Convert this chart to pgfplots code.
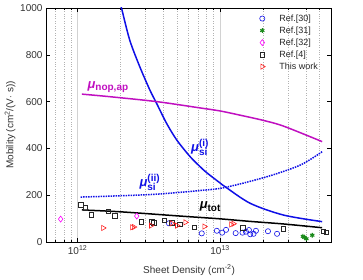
\documentclass[border=0pt]{standalone}
\usepackage{pgfplots}
\pgfplotsset{compat=1.18}
\usepackage{fontspec}
\setmainfont{Liberation Sans}
\definecolor{cblue}{RGB}{16,16,230}
\definecolor{cmag}{RGB}{192,16,192}
\definecolor{cdia}{RGB}{255,0,255}
\definecolor{cred}{RGB}{255,30,30}
\definecolor{cgreen}{RGB}{26,138,26}
\newcommand{\mubig}{{\fontsize{13}{13}\selectfont\bfseries\itshape μ}}
\newcommand{\subsz}{\fontsize{10}{10}\selectfont\bfseries}
\begin{document}
\begin{tikzpicture}
\path (-46pt,-37pt) rectangle (317pt,242pt);
\begin{axis}[
  scale only axis, width=285pt, height=234pt,
  xmode=log, xmin=6e11, xmax=6e13,
  ymin=0, ymax=1000,
  xtick={1e12,1e13}, xticklabels={10\textsuperscript{12},10\textsuperscript{13}},
  minor xtick={7e11,8e11,9e11,2e12,3e12,4e12,5e12,6e12,7e12,8e12,9e12,2e13,3e13,4e13,5e13},
  ytick={0,200,400,600,800,1000}, yticklabels={0,200,400,600,800,1000},
  tick align=inside, major tick length=4pt, minor tick length=2pt,
  xmajorgrids, xminorgrids,
  major grid style={gray!35, line width=0.5pt},
  minor grid style={gray!60, dotted, line width=0.5pt},
  axis line style={line width=0.8pt},
  every tick/.style={black, line width=0.6pt},
  tick label style={font=\fontsize{10}{11}\selectfont, text=black!80},
  xlabel={Sheet Density (cm\textsuperscript{-2})},
  ylabel={Mobility (cm\textsuperscript{2}/(V$\cdot$ s))},
  label style={font=\fontsize{10}{11}\selectfont, text=black!80},
  xlabel style={at={(axis description cs:0.502,-0.12)}, anchor=center},
  ylabel style={at={(axis description cs:-0.126,0.5)}, anchor=center},
  legend style={at={(0.735,0.99)}, anchor=north west, draw=none, fill=none,
    font=\fontsize{9}{10}\selectfont, row sep=0pt, text=black!85},
  legend image code/.code={\path (-0.12cm,0cm) (0.52cm,0cm); \draw[#1] plot coordinates {(0cm,0cm)};},
  legend cell align=left,
]
% curves
\addplot[cblue, line width=1.5pt, forget plot, smooth] coordinates {
 (1.95e12,1030) (2.03e12,1000) (2.32e12,863) (2.73e12,749) (3.21e12,650) (3.58e12,593)
 (4.21e12,507) (4.96e12,436) (6.15e12,365) (7.23e12,322) (8.06e12,296) (1e13,252)
 (1.08e13,237) (1.63e13,165) (2.79e13,115) (5.2e13,87)};
\addplot[cmag, line width=1.5pt, forget plot, smooth] coordinates {
 (1.07e12,632) (1.68e12,621) (3.58e12,600) (7.23e12,573) (1e13,560) (1.38e13,542)
 (2e13,520) (2.79e13,495) (5.2e13,429)};
\addplot[cblue, line width=1.5pt, densely dotted, forget plot, smooth] coordinates {
 (1.05e12,192) (1.68e12,196) (3.5e12,204) (7.23e12,220) (1.08e13,233) (2.13e13,279)
 (3.66e13,329) (5.2e13,386)};
\addplot[black, line width=1.5pt, forget plot, smooth] coordinates {
 (1.07e12,137) (2e12,129) (5.2e12,111) (7.23e12,105) (1e13,99) (1.63e13,88)
 (2.79e13,77) (5.2e13,61)};
% data
\addplot[only marks, mark=o, mark size=2.6pt, cblue, mark options={line width=0.6pt}] coordinates {
 (4.37e12,80) (7.43e12,37) (9.48e12,48) (1.033e13,40) (1.10e13,52) (1.285e13,38)
 (1.435e13,40) (1.517e13,44) (1.593e13,51) (1.627e13,33) (1.717e13,35) (1.783e13,48)
 (2.166e13,46) (2.508e13,35)};
\addlegendentry{Ref.[30]}
\addplot[only marks, mark=asterisk, mark size=2.4pt, cgreen, mark options={line width=1.1pt}] coordinates {
 (3.81e13,24) (3.9e13,20) (4.03e13,14) (4.43e13,29)};
\addlegendentry{Ref.[31]}
\addplot[only marks, mark=diamond, mark size=3pt, cdia, mark options={line width=0.6pt}] coordinates {
 (7.6e11,98) (2.6e12,111)};
\addlegendentry{Ref.[32]}
\addplot[only marks, mark=square, mark size=2.3pt, black!85, mark options={line width=0.6pt}] coordinates {
 (1.05e12,158) (1.13e12,147) (1.25e12,117) (1.64e12,132) (1.83e12,112) (2.8e12,87)
 (3.3e12,87) (3.41e12,83) (4.06e12,93) (4.59e12,81) (5.2e12,76) (6.6e12,63)
 (1.44e13,60) (2.77e13,56) (5.28e13,46) (5.55e13,41)};
\addlegendentry{Ref.[4]}
\addplot[only marks, mark=triangle, mark size=3pt, cred, mark options={rotate=-90, line width=0.6pt}] coordinates {
 (1.51e12,60) (2.41e12,63) (2.48e12,64) (3.27e12,70) (4.57e12,80) (4.98e12,70)
 (5.7e12,84) (7.75e12,66) (1.194e13,75) (1.24e13,78)};
\addlegendentry{This work}
% labels
\node[cmag, inner sep=0pt] at (axis cs:1.63e12,662) {\mubig\raisebox{-2.5pt}{\subsz nop,ap}};
\node[cblue, inner sep=0pt] at (axis cs:7.2e12,405) {\mubig\raisebox{-4pt}{\rlap{\subsz si}}\raisebox{5pt}{\subsz (i)}};
\node[cblue, inner sep=0pt] at (axis cs:3.2e12,256) {\mubig\raisebox{-4pt}{\rlap{\subsz si}}\raisebox{5pt}{\subsz (ii)}};
\node[black, inner sep=0pt] at (axis cs:8.5e12,150) {\mubig\raisebox{-2.5pt}{\subsz tot}};
\end{axis}
\end{tikzpicture}
\end{document}
